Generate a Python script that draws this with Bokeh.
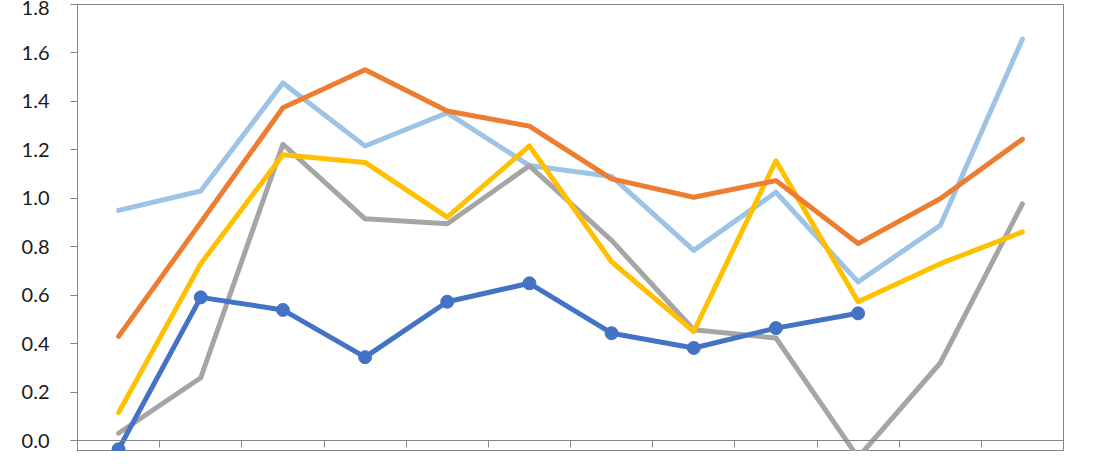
from bokeh.plotting import figure
from bokeh.models import LinearAxis, FixedTicker, NumeralTickFormatter, Range1d, CustomJSTickFormatter
from bokeh.embed import file_html
from bokeh.resources import INLINE

# 12 periods along the x axis (no labels shown in the original)
periods = list(range(1, 13))

# series values
blue = [-0.036, 0.591, 0.539, 0.344, 0.573, 0.649, 0.443, 0.382, 0.464, 0.525]
orange = [0.43, 0.90, 1.374, 1.531, 1.36, 1.298, 1.08, 1.004, 1.073, 0.813, 0.998, 1.244]
gray = [0.03, 0.259, 1.223, 0.915, 0.895, 1.134, 0.826, 0.457, 0.423, -0.07, 0.32, 0.977]
yellow = [0.115, 0.73, 1.18, 1.148, 0.922, 1.216, 0.738, 0.45, 1.155, 0.573, 0.73, 0.861]
light_blue = [0.95, 1.03, 1.476, 1.216, 1.353, 1.135, 1.09, 0.785, 1.025, 0.655, 0.888, 1.657]

y_ticks = [0.0, 0.2, 0.4, 0.6, 0.8, 1.0, 1.2, 1.4, 1.6, 1.8]

AXIS_COLOR = "#868686"

# frame: top 4px below canvas top (= 1.8), zero line 436px lower, frame ends at 451
y_end = 1.8
y_start = -y_end * (451 - 4 - 436) / 436

p = figure(
    width=1082,
    height=451,
    x_range=Range1d(0.5, 12.5),
    y_range=Range1d(y_start, y_end),
    x_axis_location=None,
    output_backend="svg",
    toolbar_location=None,
    min_border_left=77,
    min_border_right=19,
    min_border_top=4,
    min_border_bottom=0,
)
p.grid.visible = False
p.outline_line_color = AXIS_COLOR
p.outline_line_width = 1
p.background_fill_color = "white"
p.border_fill_color = "white"

# y axis
yax = p.yaxis[0]
yax.ticker = FixedTicker(ticks=y_ticks, minor_ticks=[])
yax.formatter = NumeralTickFormatter(format="0.0")
yax.axis_line_color = AXIS_COLOR
yax.major_tick_line_color = AXIS_COLOR
yax.major_tick_out = 7
yax.major_tick_in = 0
yax.minor_tick_line_color = None
yax.major_label_text_font = "Lato"
yax.major_label_text_font_size = "20px"
yax.major_label_text_color = "#1a1a1a"
yax.major_label_standoff = 21

# x axis crossing at zero, ticks between categories, labels left blank
xax = LinearAxis(
    fixed_location=0,
    ticker=FixedTicker(ticks=[x - 0.5 for x in periods] + [periods[-1] + 0.5], minor_ticks=[]),
    formatter=CustomJSTickFormatter(code="return ''"),
    axis_line_color=AXIS_COLOR,
    major_tick_line_color=AXIS_COLOR,
    major_tick_out=0,
    major_tick_in=-7,
    minor_tick_line_color=None,
    major_label_text_font_size="1px",
    major_label_standoff=0,
)
p.add_layout(xax, "below")

LW = 5
p.line(periods, light_blue, line_color="#9DC3E6", line_width=LW, line_join="round", line_cap="round")
p.line(periods, gray, line_color="#A5A5A5", line_width=LW, line_join="round", line_cap="round")
p.line(periods, yellow, line_color="#FFC000", line_width=LW, line_join="round", line_cap="round")
p.line(periods, orange, line_color="#ED7D31", line_width=LW, line_join="round", line_cap="round")
p.line(periods[:len(blue)], blue, line_color="#4472C4", line_width=LW, line_join="round", line_cap="round")
p.scatter(periods[:len(blue)], blue, size=13, fill_color="#4472C4", line_color="#4472C4")

open("out.html", "w").write(file_html(p, INLINE))
